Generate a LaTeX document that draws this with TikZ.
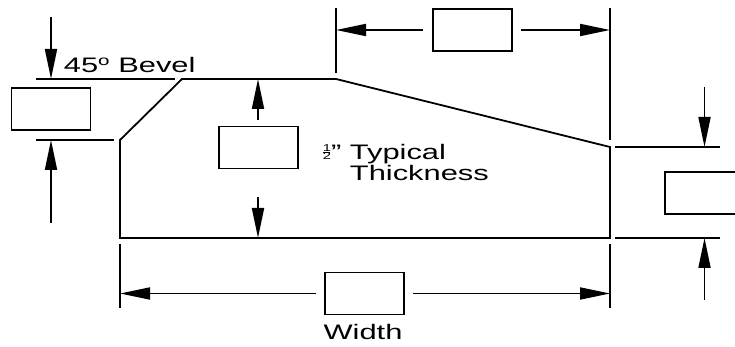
\documentclass[tikz,border=0pt]{standalone}
\usepackage{fontspec}
\setmainfont{Liberation Sans}[FakeStretch=1.47]
\usepackage{tikz}
\usetikzlibrary{arrows.meta}
\newcommand{\halfmark}{{\fontsize{10}{10}\selectfont\rlap{\raisebox{8.4pt}{1}}\rlap{\rule[6.9pt]{7.5pt}{0.7pt}}2}}
\newcommand{\degmark}{\raisebox{6.6pt}{\fontsize{14}{14}\selectfont o}}
\tikzset{dimbox/.style={draw,line width=1.8pt,minimum width=79pt,minimum height=42pt,inner sep=0pt},
  dimarrow/.style={->,line width=1.8pt},
  lbl/.style={inner sep=0pt,anchor=base west}}

\begin{document}
\begin{tikzpicture}[line cap=butt,line join=miter,>={Triangle[length=30pt,width=12pt]},x=10pt,y=10pt,line width=1.8pt,font=\fontsize{21}{21}\selectfont]
\useasboundingbox (0,0) rectangle (73.5,34.7);
% plate outline
\coordinate (bevlo) at (12.0,20.7);
\coordinate (bevhi) at (18.2,26.8);
\coordinate (slopehi) at (33.6,26.8);
\coordinate (slopelo) at (61.0,20.0);
\coordinate (botrt) at (61.0,10.9);
\coordinate (botlt) at (12.0,10.9);
\draw (bevlo) -- (bevhi) -- (slopehi) -- (slopelo) -- (botrt) -- (botlt) -- cycle;
% extension lines
\draw (3.6,26.8) -- (17.5,26.8);
\draw (3.6,20.7) -- (11.4,20.7);
\draw (33.6,33.9) -- (33.6,27.4);
\draw (61.0,33.9) -- (61.0,20.7);
\draw (12.0,10.3) -- (12.0,3.9);
\draw (61.0,10.3) -- (61.0,3.9);
\draw (61.5,20.0) -- (72.0,20.0);
\draw (61.5,10.9) -- (72.0,10.9);
% value boxes
\node[dimbox] (bevbox) at (5.1,23.8) {};
\node[dimbox] (thkbox) at (25.85,19.95) {};
\node[dimbox] (topbox) at (47.25,31.7) {};
\node[dimbox] (rtbox) at (70.45,15.4) {};
\node[dimbox] (widbox) at (36.45,5.35) {};
% arrow ends
\coordinate (bevtop) at (5.1,33.0);
\coordinate (bevtip) at (5.1,26.8);
\coordinate (bevbot) at (5.1,12.4);
\coordinate (bevtip2) at (5.1,20.7);
\coordinate (thkup) at (25.8,22.7);
\coordinate (thktip) at (25.8,26.8);
\coordinate (thkdn) at (25.8,15.0);
\coordinate (thktip2) at (25.8,10.9);
\coordinate (topl) at (42.3,31.7);
\coordinate (topltip) at (33.6,31.7);
\coordinate (topr) at (52.1,31.7);
\coordinate (toprtip) at (61.0,31.7);
\coordinate (rttop) at (70.45,26.0);
\coordinate (rttip) at (70.45,20.0);
\coordinate (rtbot) at (70.45,4.7);
\coordinate (rttip2) at (70.45,10.9);
\coordinate (widl) at (31.6,5.35);
\coordinate (widltip) at (12.0,5.35);
\coordinate (widr) at (41.3,5.35);
\coordinate (widrtip) at (61.0,5.35);
\draw[dimarrow] (bevtop) -- (bevtip);
\draw[dimarrow] (bevbot) -- (bevtip2);
\draw[dimarrow] (thkup) -- (thktip);
\draw[dimarrow] (thkdn) -- (thktip2);
\draw[dimarrow] (topl) -- (topltip);
\draw[dimarrow] (topr) -- (toprtip);
\draw[dimarrow] (rttop) -- (rttip);
\draw[dimarrow] (rtbot) -- (rttip2);
\draw[dimarrow] (widl) -- (widltip);
\draw[dimarrow] (widr) -- (widrtip);
% texts
\node[lbl] (bevtxt) at (6.3,27.47) {45\degmark\ Bevel};
\node[lbl] (halftxt) at (32.2,18.7) {\halfmark"};
\node[lbl] (typtxt) at (34.9,18.7) {Typical};
\node[lbl] (thktxt) at (34.9,16.6) {Thickness};
\node[inner sep=0pt,anchor=base] (widtxt) at (36.3,0.7) {Width};
\end{tikzpicture}
\end{document}
